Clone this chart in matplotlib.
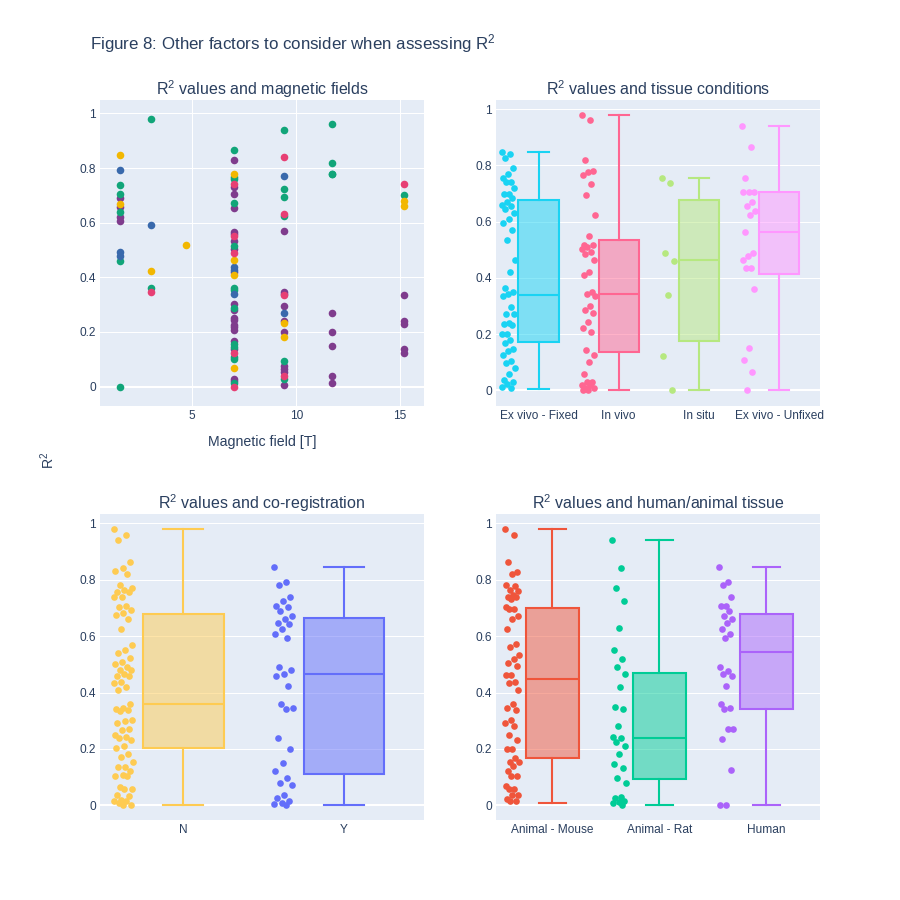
import matplotlib
matplotlib.use("Agg")
import matplotlib.pyplot as plt
from matplotlib.colors import to_rgba
from matplotlib.ticker import FuncFormatter
import numpy as np

plt.rcParams['font.family'] = ['Liberation Sans', 'DejaVu Sans']
plt.rcParams['mathtext.default'] = 'regular'

TEXT_COLOR = '#2a3f5f'
BG_COLOR = '#E5ECF6'

# 1. Data - R2 vs magnetic field (scatter, coloured by group)
# group letters: P purple, G green, B blue, Y yellow, K pink
col_15 = [0.846, 0.793, 0.739, 0.706, 0.689, 0.670, 0.659, 0.640, 0.622, 0.607, 0.491, 0.479, 0.461, 0.0]
grp_15 = "YBGGPYPGPPBBGG"
col_30 = [0.980, 0.593, 0.422, 0.361, 0.348]
grp_30 = "GBYGK"
col_47 = [0.518]
grp_47 = "Y"
col_70 = [0.865, 0.828, 0.779, 0.766, 0.759, 0.740, 0.732, 0.705, 0.672, 0.655,
          0.565, 0.557, 0.552, 0.533, 0.516, 0.504, 0.490, 0.462, 0.437, 0.428,
          0.418, 0.409, 0.361, 0.352, 0.339, 0.302, 0.287, 0.280, 0.250, 0.243,
          0.226, 0.217, 0.207, 0.168, 0.155, 0.146, 0.138, 0.124, 0.110, 0.101,
          0.067, 0.029, 0.022, 0.012, 0.0]
grp_70 = "GPYGGKPPGPPPKPGPKYBBPYGGBPGPPPPPPPGGPKGGYPPGK"
col_94 = [0.940, 0.840, 0.770, 0.722, 0.695, 0.630, 0.623, 0.571, 0.348, 0.340,
          0.335, 0.296, 0.270, 0.239, 0.234, 0.199, 0.180, 0.095, 0.077, 0.065,
          0.055, 0.037, 0.027, 0.006]
grp_94 = "GKBGGKGPPPKPBPYPYGPPPKGP"
col_117 = [0.960, 0.820, 0.779, 0.779, 0.270, 0.199, 0.149, 0.038, 0.012]
grp_117 = "GGGGPPPPP"
col_152 = [0.740, 0.701, 0.680, 0.660, 0.335, 0.240, 0.230, 0.138, 0.122]
grp_152 = "KGYYPPPPP"

fields = [1.5, 3.0, 4.7, 7.0, 9.4, 11.7, 15.2]
field_values = [col_15, col_30, col_47, col_70, col_94, col_117, col_152]
field_groups = [grp_15, grp_30, grp_47, grp_70, grp_94, grp_117, grp_152]
group_colors = {'P': '#7F3C8D', 'G': '#11A579', 'B': '#3969AC', 'Y': '#F2B701', 'K': '#E73F74'}

# 2. Data - tissue condition
tissue_cats = ["Ex vivo - Fixed", "In vivo", "In situ", "Ex vivo - Unfixed"]
tissue_colors = ['#19D3F3', '#FF6692', '#B6E880', '#FF97FF']
fixed_pts = [0.847, 0.840, 0.828, 0.792, 0.770, 0.757, 0.740, 0.740, 0.721, 0.700,
             0.700, 0.683, 0.671, 0.660, 0.656, 0.644, 0.632, 0.610, 0.594, 0.570,
             0.533, 0.463, 0.422, 0.363, 0.351, 0.342, 0.336, 0.297, 0.272, 0.270,
             0.241, 0.235, 0.232, 0.200, 0.200, 0.179, 0.167, 0.147, 0.138, 0.124,
             0.104, 0.098, 0.078, 0.057, 0.037, 0.031, 0.021, 0.013, 0.007]
invivo_pts = [0.980, 0.961, 0.820, 0.780, 0.778, 0.766, 0.733, 0.695, 0.624, 0.550,
              0.517, 0.517, 0.511, 0.503, 0.493, 0.484, 0.464, 0.420, 0.410, 0.349,
              0.343, 0.337, 0.301, 0.286, 0.274, 0.244, 0.221, 0.209, 0.144, 0.126,
              0.102, 0.057, 0.031, 0.028, 0.019, 0.017, 0.009, 0.007, 0.001, 0.001]
insitu_pts = [0.757, 0.739, 0.490, 0.461, 0.339, 0.123, 0.0]
unfixed_pts = [0.940, 0.865, 0.757, 0.706, 0.706, 0.706, 0.671, 0.657, 0.639, 0.624,
               0.563, 0.490, 0.478, 0.463, 0.436, 0.436, 0.361, 0.152, 0.108, 0.066, 0.0]
# q1, median, q3, lower whisker, upper whisker
tissue_stats = [(0.170, 0.339, 0.677, 0.006, 0.847),
                (0.135, 0.343, 0.535, 0.0, 0.980),
                (0.176, 0.463, 0.677, 0.0, 0.757),
                (0.415, 0.562, 0.705, 0.0, 0.940)]

# 3. Data - co-registration
coreg_cats = ["N", "Y"]
coreg_colors = ['#FECB52', '#636EFA']
n_pts = [0.980, 0.960, 0.941, 0.864, 0.841, 0.830, 0.822, 0.782, 0.770, 0.763,
         0.758, 0.755, 0.740, 0.738, 0.706, 0.703, 0.694, 0.682, 0.675, 0.659,
         0.627, 0.567, 0.550, 0.541, 0.524, 0.507, 0.502, 0.489, 0.479, 0.479,
         0.464, 0.460, 0.460, 0.437, 0.435, 0.419, 0.408, 0.360, 0.345, 0.342,
         0.339, 0.336, 0.301, 0.298, 0.291, 0.270, 0.268, 0.248, 0.244, 0.238,
         0.230, 0.212, 0.204, 0.182, 0.171, 0.153, 0.137, 0.135, 0.123, 0.109,
         0.103, 0.103, 0.066, 0.058, 0.058, 0.038, 0.033, 0.019, 0.017, 0.014,
         0.009, 0.002, 0.001]
y_pts = [0.846, 0.793, 0.782, 0.740, 0.726, 0.706, 0.704, 0.689, 0.671, 0.659,
         0.645, 0.643, 0.626, 0.608, 0.594, 0.491, 0.479, 0.464, 0.460, 0.423,
         0.360, 0.346, 0.340, 0.240, 0.199, 0.149, 0.123, 0.097, 0.078, 0.073,
         0.038, 0.026, 0.017, 0.007, 0.005, 0.002]
coreg_stats = [(0.203, 0.360, 0.678, 0.0, 0.980),
               (0.110, 0.464, 0.665, 0.0, 0.846)]

# 4. Data - human / animal tissue
species_cats = ["Animal - Mouse", "Animal - Rat", "Human"]
species_colors = ['#EF553B', '#00CC96', '#AB63FA']
mouse_pts = [0.980, 0.960, 0.864, 0.828, 0.820, 0.781, 0.777, 0.763, 0.760, 0.745,
             0.739, 0.737, 0.733, 0.704, 0.695, 0.695, 0.671, 0.659, 0.625, 0.571,
             0.562, 0.532, 0.520, 0.505, 0.493, 0.463, 0.461, 0.437, 0.435, 0.410,
             0.360, 0.346, 0.339, 0.301, 0.293, 0.283, 0.248, 0.232, 0.199, 0.199,
             0.168, 0.152, 0.152, 0.141, 0.123, 0.105, 0.103, 0.069, 0.058, 0.058,
             0.038, 0.038, 0.021, 0.014, 0.014]
rat_pts = [0.940, 0.840, 0.769, 0.723, 0.630, 0.552, 0.518, 0.491, 0.464, 0.419,
           0.348, 0.340, 0.280, 0.244, 0.238, 0.226, 0.210, 0.181, 0.147, 0.132,
           0.096, 0.078, 0.031, 0.026, 0.017, 0.012, 0.007, 0.002]
human_pts = [0.846, 0.793, 0.782, 0.740, 0.706, 0.706, 0.690, 0.671, 0.659, 0.645,
             0.626, 0.608, 0.594, 0.491, 0.476, 0.464, 0.460, 0.423, 0.360, 0.346,
             0.340, 0.270, 0.270, 0.235, 0.126, 0.0, 0.0]
species_stats = [(0.167, 0.447, 0.700, 0.009, 0.980),
                 (0.092, 0.239, 0.469, 0.0, 0.940),
                 (0.342, 0.544, 0.679, 0.0, 0.846)]


def style_axes(ax, ylim, xgrid=False):
    ax.set_facecolor(BG_COLOR)
    for s in ax.spines.values():
        s.set_visible(False)
    ax.set_ylim(*ylim)
    ax.set_yticks([0, 0.2, 0.4, 0.6, 0.8, 1.0])
    ax.yaxis.set_major_formatter(FuncFormatter(lambda v, _: f"{v:g}"))
    ax.grid(axis='y', color='white', linewidth=0.75)
    if xgrid:
        ax.grid(axis='x', color='white', linewidth=0.75)
    ax.axhline(0, color='white', linewidth=1.5, zorder=1.5)
    ax.set_axisbelow(True)
    ax.tick_params(length=0, pad=3, labelsize=8.6, labelcolor=TEXT_COLOR)


def box_panel(ax, cats, groups, stats, colors, jitter, xlim, ylim):
    for i, (pts, st, col) in enumerate(zip(groups, stats, colors)):
        q1, med, q3, lo, hi = st
        line = dict(color=col, linewidth=1.5)
        ax.bxp([dict(med=med, q1=q1, q3=q3, whislo=lo, whishi=hi, fliers=[])],
               positions=[i], widths=0.5, capwidths=0.25, patch_artist=True,
               showfliers=False,
               boxprops=dict(facecolor=to_rgba(col, 0.5), edgecolor=col, linewidth=1.5),
               medianprops=line, whiskerprops=line, capprops=line)
        offs = ((np.arange(len(pts)) * 0.618034) % 1 - 0.5) * 2 * jitter
        ax.scatter(i - 0.375 + offs, pts, s=23, color=col, linewidths=0, zorder=3)
    style_axes(ax, ylim)
    ax.set_xticks(range(len(cats)), cats)
    ax.set_xlim(*xlim)


fig = plt.figure(figsize=(9, 9), dpi=100)
fig.patch.set_facecolor('white')

ax1 = fig.add_axes([100 / 900, 1 - 406 / 900, 324 / 900, 306 / 900])
ax2 = fig.add_axes([496 / 900, 1 - 406 / 900, 324 / 900, 306 / 900])
ax3 = fig.add_axes([100 / 900, 1 - 820 / 900, 324 / 900, 306 / 900])
ax4 = fig.add_axes([496 / 900, 1 - 820 / 900, 324 / 900, 306 / 900])

# magnetic field scatter
for f, vals, grp in zip(fields, field_values, field_groups):
    for letter, color in group_colors.items():
        ys = [v for v, g in zip(vals, grp) if g == letter]
        if ys:
            ax1.scatter([f] * len(ys), ys, s=30, color=color, linewidths=0, zorder=3)
style_axes(ax1, (-0.071, 1.049), xgrid=True)
ax1.set_xlim(0.56, 16.15)
ax1.set_xticks([5, 10, 15])

box_panel(ax2, tissue_cats, [fixed_pts, invivo_pts, insitu_pts, unfixed_pts],
          tissue_stats, tissue_colors, 0.085, (-0.53, 3.51), (-0.056, 1.033))
box_panel(ax3, coreg_cats, [n_pts, y_pts], coreg_stats, coreg_colors, 0.06,
          (-0.52, 1.50), (-0.052, 1.033))
box_panel(ax4, species_cats, [mouse_pts, rat_pts, human_pts], species_stats,
          species_colors, 0.065, (-0.526, 2.50), (-0.052, 1.033))

# titles and labels
fig.text(90 / 900, 1 - 44 / 900, "Figure 8: Other factors to consider when assessing R$^2$",
         fontsize=12.2, color=TEXT_COLOR, ha='left', va='center')
sub_titles = [("R$^2$ values and magnetic fields", 262, 89),
              ("R$^2$ values and tissue conditions", 658, 89),
              ("R$^2$ values and co-registration", 262, 503),
              ("R$^2$ values and human/animal tissue", 658, 503)]
for txt, x, y in sub_titles:
    fig.text(x / 900, 1 - y / 900, txt, fontsize=11.5, color=TEXT_COLOR,
             ha='center', va='center')
fig.text(262 / 900, 1 - 442 / 900, "Magnetic field [T]", fontsize=10.2,
         color=TEXT_COLOR, ha='center', va='center')
fig.text(48 / 900, 1 - 460 / 900, "R$^2$", fontsize=10.2, color=TEXT_COLOR,
         ha='center', va='center', rotation=90)

plt.savefig("out.png", dpi=100)
